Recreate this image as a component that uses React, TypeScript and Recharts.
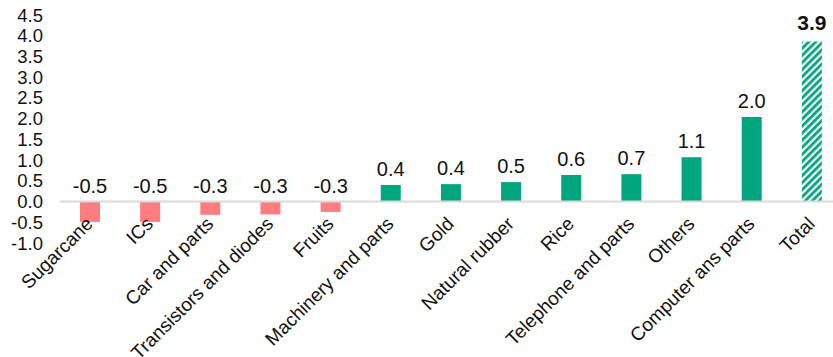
import React from 'react';
import {
  BarChart, Bar, XAxis, YAxis, Cell, LabelList, ReferenceLine,
} from 'recharts';

const categories = [
  'Sugarcane', 'ICs', 'Car and parts', 'Transistors and diodes', 'Fruits',
  'Machinery and parts', 'Gold', 'Natural rubber', 'Rice', 'Telephone and parts',
  'Others', 'Computer ans parts', 'Total',
];
const values = [-0.49, -0.49, -0.32, -0.31, -0.25, 0.4, 0.42, 0.47, 0.64, 0.66, 1.07, 2.04, 3.86];
const labels = ['-0.5', '-0.5', '-0.3', '-0.3', '-0.3', '0.4', '0.4', '0.5', '0.6', '0.7', '1.1', '2.0', '3.9'];
const yTicks = [-1, -0.5, 0, 0.5, 1, 1.5, 2, 2.5, 3, 3.5, 4, 4.5];

const GREEN = '#00A67D';
const PINK = '#FF7C80';
const FONT = 'Liberation Sans, Arial, sans-serif';

const data = categories.map((name, i) => ({ name, value: values[i], label: labels[i] }));

const AxisTick = ({ x, y, payload }: any) => (
  <text
    x={x + 4}
    y={y - 26}
    transform={`rotate(-45, ${x + 4}, ${y - 26})`}
    textAnchor="end"
    fontSize={19}
    fill="#111"
    fontFamily={FONT}
  >
    {payload.value}
  </text>
);

const ValueLabel = (props: any) => {
  const { x, y, width, height, index } = props;
  const top = Math.min(y, y + height);
  const isTotal = index === categories.length - 1;
  return (
    <text
      x={x + width / 2}
      y={top - (isTotal ? 12 : 9)}
      textAnchor="middle"
      fontSize={isTotal ? 21 : 20}
      fontWeight={isTotal ? 'bold' : 'normal'}
      fill="#111"
      fontFamily={FONT}
    >
      {labels[index]}
    </text>
  );
};

export default function App() {
  return (
    <div style={{ position: 'absolute', left: 0, top: 0, width: 833, height: 357, overflow: 'hidden', background: '#fff' }}>
      <BarChart
        width={842}
        height={357}
        data={data}
        margin={{ top: 15, right: 0, left: 0, bottom: 0 }}
      >
        <defs>
          <pattern id="hatch" width="5" height="5" patternUnits="userSpaceOnUse" patternTransform="rotate(45)">
            <rect width="5" height="5" fill="#fff" />
            <rect width="2.8" height="5" fill={GREEN} />
          </pattern>
        </defs>
        <XAxis
          dataKey="name"
          interval={0}
          axisLine={false}
          tickLine={false}
          tick={<AxisTick />}
          height={114}
        />
        <YAxis
          domain={[-1, 4.5]}
          ticks={yTicks}
          interval={0}
          axisLine={false}
          tickLine={false}
          width={60}
          tickFormatter={(v: number) => v.toFixed(1)}
          tick={{ fontSize: 18.5, fill: '#111', fontFamily: FONT, dx: -9 }}
        />
        <ReferenceLine y={0} stroke="#d9d9d9" strokeWidth={2} />
        <Bar dataKey="value" barSize={20} isAnimationActive={false}>
          {data.map((d, i) => (
            <Cell
              key={`c-${i}`}
              fill={i === data.length - 1 ? 'url(#hatch)' : d.value < 0 ? PINK : GREEN}
            />
          ))}
          <LabelList dataKey="label" content={<ValueLabel />} />
        </Bar>
      </BarChart>
    </div>
  );
}
